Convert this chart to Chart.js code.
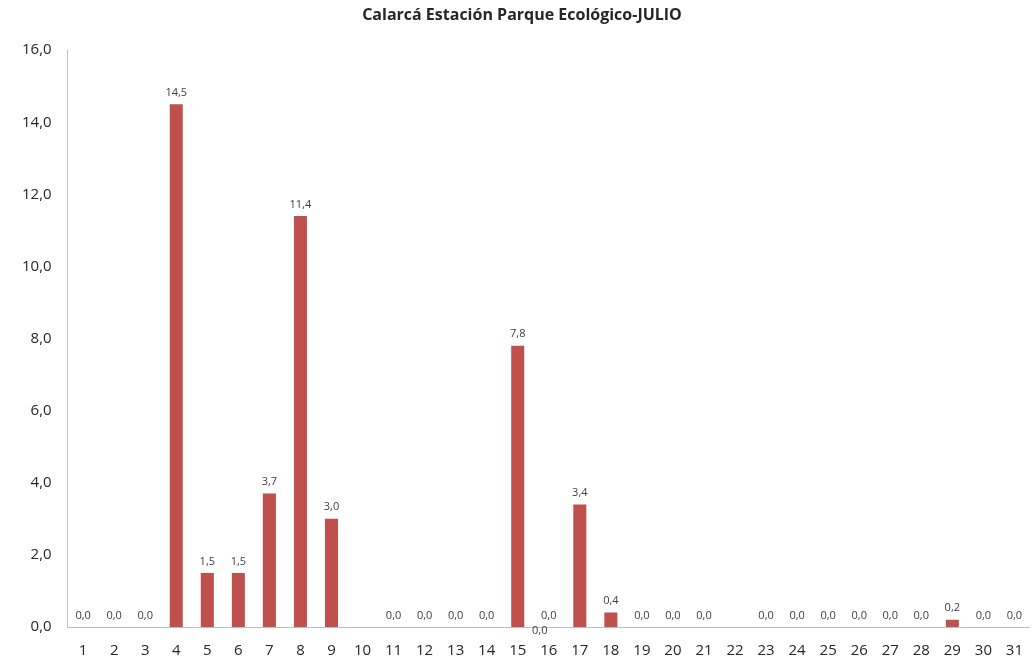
<!DOCTYPE html>
<html>
<head>
<meta charset="utf-8">
<script src="https://cdn.jsdelivr.net/npm/chart.js@4.4.1/dist/chart.umd.min.js"></script>
<style>
  html, body { margin: 0; padding: 0; background: #fff; overflow: hidden; }
  #wrap { width: 1038px; height: 675px; position: relative; }
</style>
</head>
<body>
<div id="wrap"><canvas id="report_chart"></canvas></div>
<script>
var days = ['1','2','3','4','5','6','7','8','9','10','11','12','13','14','15','16',
            '17','18','19','20','21','22','23','24','25','26','27','28','29','30','31'];
var rain = [0, 0, 0, 14.5, 1.5, 1.5, 3.7, 11.4, 3.0, null, 0, 0, 0, 0, 7.8, 0,
            3.4, 0.4, 0, 0, 0, null, 0, 0, 0, 0, 0, 0, 0.2, 0, 0];
var title = 'Calarcá Estación Parque Ecológico-JULIO';

function fmt(v) {
    return v.toFixed(1).replace('.', ',');
}

// value labels above each bar, Excel style
var barLabels = {
    id: 'barLabels',
    afterDatasetsDraw: function(chart) {
        var ctx = chart.ctx;
        var meta = chart.getDatasetMeta(0);
        ctx.save();
        ctx.font = '11px "Open Sans", sans-serif';
        ctx.fillStyle = '#404040';
        ctx.textAlign = 'center';
        ctx.textBaseline = 'bottom';
        meta.data.forEach(function(bar, i) {
            if (rain[i] === null) return;
            ctx.fillText(fmt(rain[i]), bar.x, bar.y - 6);
        });
        // stray duplicate label under day 16 seen in the original
        var x = chart.scales.x.getPixelForValue(15) - 9;
        var y = chart.scales.y.getPixelForValue(0) + 4;
        ctx.textBaseline = 'middle';
        ctx.fillText(fmt(0), x, y);
        ctx.restore();
    }
};

var chart_canvas = document.getElementById('report_chart').getContext('2d');
var chart_object = new Chart(chart_canvas, {
    type: 'bar',
    data: {
        labels: days,
        datasets: [{
            data: rain,
            backgroundColor: '#C0504D',
            borderWidth: 0,
            barPercentage: 0.84,
            categoryPercentage: 0.5
        }]
    },
    options: {
        responsive: true,
        maintainAspectRatio: false,
        animation: false,
        layout: { padding: { top: 2, right: 0, left: 6, bottom: 0 } },
        plugins: {
            legend: { display: false },
            tooltip: { enabled: false },
            title: {
                display: true,
                text: title,
                color: '#262626',
                font: { family: '"Open Sans", sans-serif', size: 16, weight: 'bold' },
                padding: { top: 4, bottom: 25 }
            }
        },
        scales: {
            x: {
                grid: { display: false, drawTicks: false },
                border: { color: '#BFBFBF', width: 1 },
                ticks: {
                    color: '#262626',
                    font: { family: '"Open Sans", sans-serif', size: 15 },
                    maxRotation: 0,
                    autoSkip: false,
                    padding: 15
                }
            },
            y: {
                min: 0,
                max: 16,
                grid: { display: false, drawTicks: false },
                border: { color: '#BFBFBF', width: 1 },
                ticks: {
                    stepSize: 2,
                    color: '#262626',
                    font: { family: '"Open Sans", sans-serif', size: 15 },
                    padding: 16,
                    callback: function(v) { return fmt(v); }
                }
            }
        }
    },
    plugins: [barLabels]
});
</script>
</body>
</html>
